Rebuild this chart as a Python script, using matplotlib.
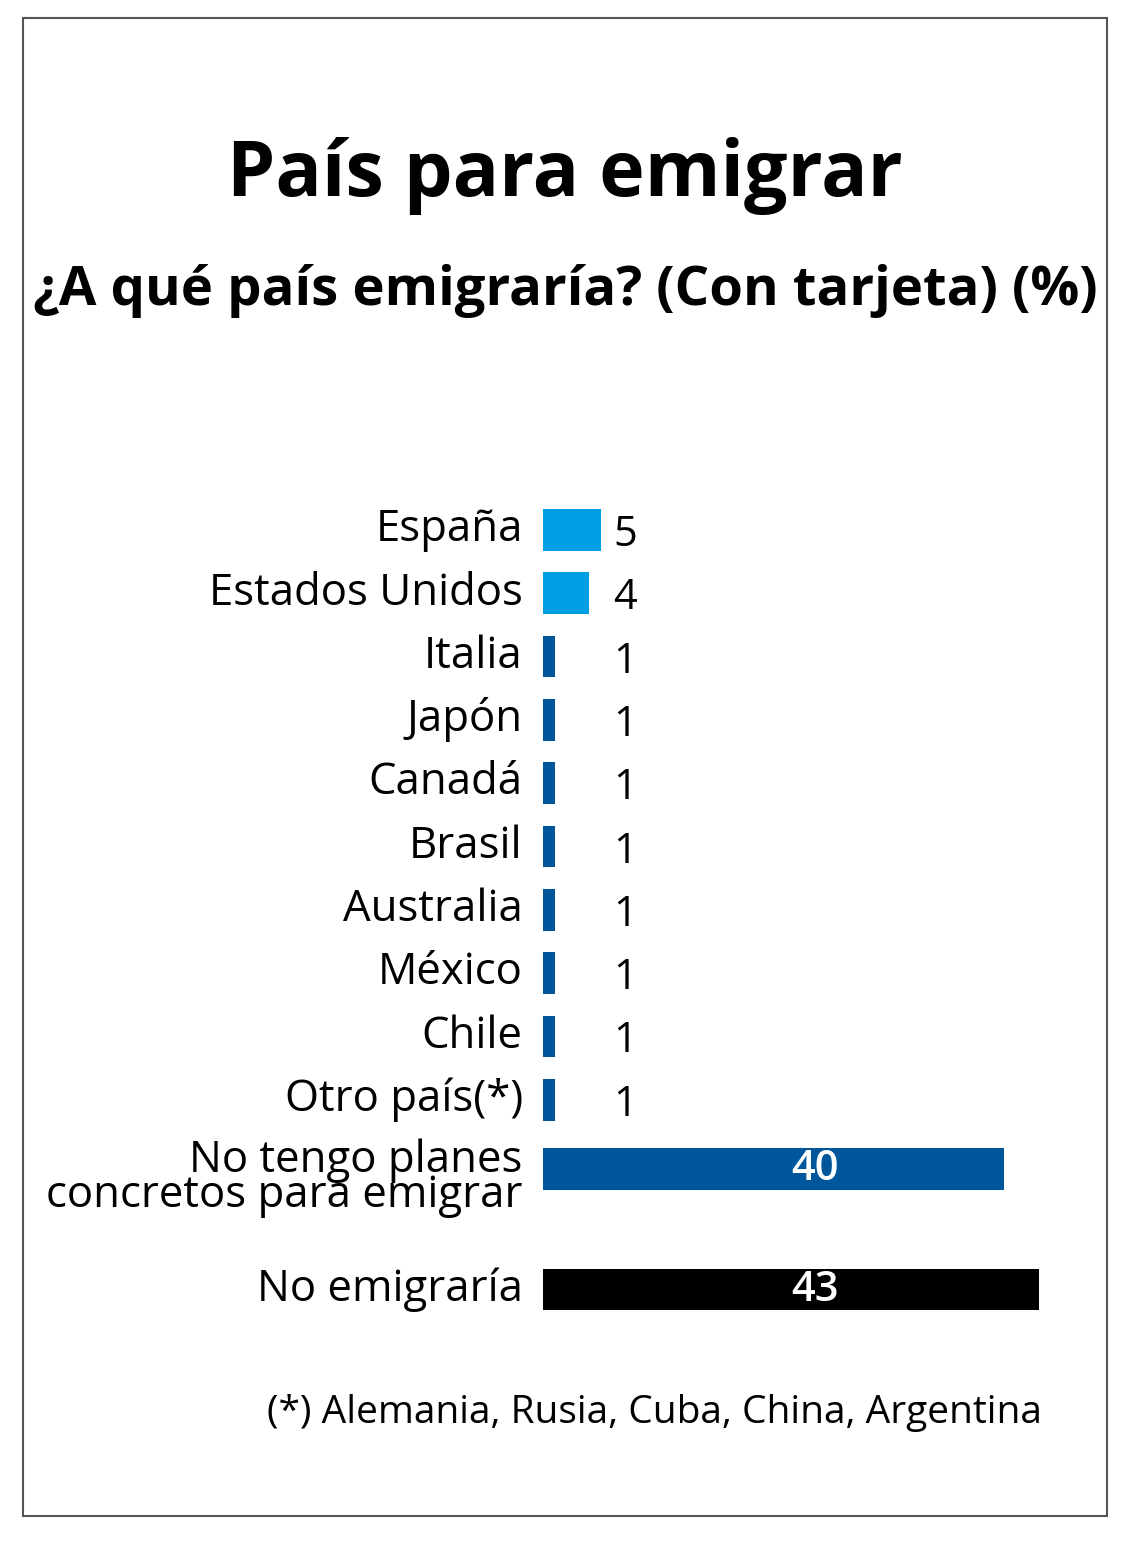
import matplotlib
matplotlib.use("Agg")
import matplotlib.pyplot as plt
from matplotlib.patches import Rectangle

# ---- data ----
categories = ["España", "Estados Unidos", "Italia", "Japón", "Canadá", "Brasil",
              "Australia", "México", "Chile", "Otro país(*)",
              "No tengo planes\nconcretos para emigrar", "No emigraría"]
values = [5, 4, 1, 1, 1, 1, 1, 1, 1, 1, 40, 43]
bar_colors = ["#009FE3", "#009FE3"] + ["#00569B"] * 9 + ["#000000"]
title = "País para emigrar"
subtitle = "¿A qué país emigraría? (Con tarjeta) (%)"
footnote = "(*) Alemania, Rusia, Cuba, China, Argentina"

W, H = 1144, 1552
fig = plt.figure(figsize=(W / 100, H / 100), dpi=100)
FONT = ["Open Sans", "DejaVu Sans"]

# frame
fig.patches.append(Rectangle((23 / W, 1 - 1516 / H), (1107 - 23) / W, (1516 - 18) / H,
                             transform=fig.transFigure, fill=False,
                             edgecolor="#555555", linewidth=1.5))

fig.text(565 / W, 1 - 176 / H, title, ha="center", va="center", fontsize=55.5,
         fontweight="bold", family=FONT, color="black")
fig.text(565 / W, 1 - 291 / H, subtitle, ha="center", va="center", fontsize=39.2,
         fontweight="bold", family=FONT, color="black")

# axes: x 0 -> px 543, 11.53 px/unit ; y row unit 63.3 px
px_per_x = 11.53
ax_left, ax_right = 543, 1100
ax_top, ax_bot = 480, 1340
ax = fig.add_axes([ax_left / W, 1 - ax_bot / H, (ax_right - ax_left) / W, (ax_bot - ax_top) / H])
ax.set_xlim(0, (ax_right - ax_left) / px_per_x)
row = 63.3
top_val = -(530 - ax_top) / row
ax.set_ylim(top_val + (ax_bot - ax_top) / row, top_val)
ax.axis("off")

ypos = list(range(10)) + [10.1, 12.0]
ax.barh(ypos, values, height=0.66, color=bar_colors, left=0)

for y, v, c, cat in zip(ypos, values, bar_colors, categories):
    dy = 0.14 if "\n" in cat else 0.0
    ax.text(-1.75, y + dy, cat, ha="right", va="center", fontsize=31.5, family=FONT,
            color="black", linespacing=0.7)
    if v < 10:
        ax.text(7.1, y + 0.08, str(v), ha="center", va="center", fontsize=30,
                family=FONT, color="black")
    else:
        ax.text(23.6, y, str(v), ha="center", va="center", fontsize=30,
                family=FONT, color="white", fontweight="semibold")

fig.text(1042 / W, 1 - 1413 / H, footnote, ha="right", va="center", fontsize=28,
         family=FONT, color="black")

fig.savefig("out.png", dpi=100, facecolor="white")
